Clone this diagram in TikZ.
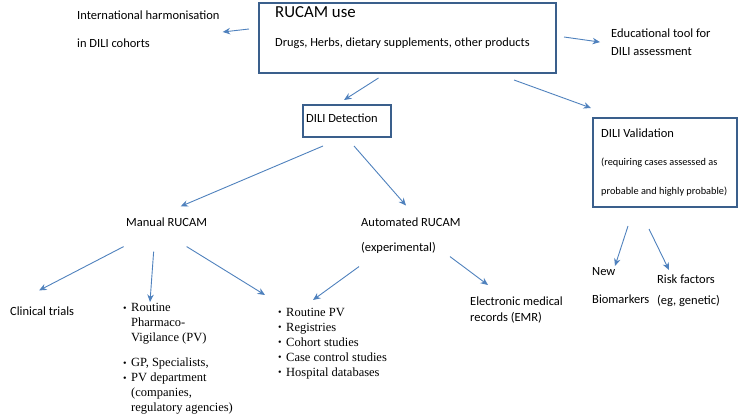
\documentclass[tikz,border=0pt]{standalone}
\usepackage{fontspec}
\setmainfont{Carlito}
\newfontfamily\tms{Liberation Serif}
\usetikzlibrary{arrows.meta,calc}
\definecolor{boxc}{HTML}{3A5F8C}
\definecolor{arrc}{HTML}{4F81BD}
\newcommand{\bul}{\makebox[8pt][l]{\raisebox{0.5pt}{\scalebox{0.8}{\textbullet}}}}
\begin{document}
\begin{tikzpicture}[x=1pt,y=-1pt,
  framebox/.style={draw=boxc,line width=2pt,inner sep=0pt,anchor=north west},
  txt/.style={inner sep=0pt,anchor=west,font=\fontsize{12.5}{15}\selectfont},
  mtxt/.style={inner sep=0pt,anchor=north west,align=left},
  arr/.style={draw=arrc,line width=0.9pt,-{Stealth[length=7.5pt,width=6.5pt]}}]
\useasboundingbox (0,0) rectangle (743,414);
% main box
\node[framebox,minimum width=297pt,minimum height=70pt] (main) at (258,2) {};
\node[txt,font=\fontsize{16.8}{20}\selectfont] (ttl) at (275,12) {RUCAM use};
\node[txt,font=\fontsize{12.4}{15}\selectfont] (sub) at (275,43) {Drugs, Herbs, dietary supplements, other products};
% side texts
\node[mtxt,font=\fontsize{12.5}{28}\selectfont] (intl) at (77,10.5) {International harmonisation\\in DILI cohorts};
\node[mtxt,font=\fontsize{12.5}{18}\selectfont] (edu) at (611,28.5) {Educational tool for\\DILI assessment};
% detection
\node[framebox,minimum width=88pt,minimum height=32pt] (det) at (302,104) {};
\node[txt] (dett) at (306,118) {DILI Detection};
% validation
\node[framebox,minimum width=144pt,minimum height=89pt] (val) at (592,117) {};
\node[txt] (valt) at (601,133) {DILI Validation};
\node[mtxt,font=\fontsize{10.3}{29}\selectfont] (valsub) at (601,158) {(requiring cases assessed as\\probable and highly probable)};
% level 2
\node[txt] (man) at (126,222) {Manual RUCAM};
\node[mtxt,font=\fontsize{12.5}{25}\selectfont] (aut) at (361,217.5) {Automated RUCAM\\(experimental)};
% level 3
\node[txt] (clin) at (10,311) {Clinical trials};
\node[mtxt,font=\fontsize{12.5}{16}\selectfont] (emr) at (470,296.5) {Electronic medical\\records (EMR)};
\node[mtxt,font=\fontsize{12.5}{28}\selectfont] (bio) at (592,267.5) {New\\Biomarkers};
\node[mtxt,font=\fontsize{12.5}{21}\selectfont] (risk) at (657,274.5) {Risk factors\\(eg, genetic)};
\node[mtxt,font=\tms\fontsize{12.5}{15}\selectfont] (lst1) at (123,303.5) {\bul Routine\\\hspace*{8pt}Pharmaco-\\\hspace*{8pt}Vigilance (PV)\\[10pt]\bul GP, Specialists,\\\bul PV department\\\hspace*{8pt}(companies,\\\hspace*{8pt}regulatory agencies)};
\node[mtxt,font=\tms\fontsize{12.5}{15}\selectfont] (lst2) at (278,308) {\bul Routine PV\\\bul Registries\\\bul Cohort studies\\\bul Case control studies\\\bul Hospital databases};
% arrows
\draw[arr] ($(main.west)+(-9,-9)$) -- ($(intl.north east)+(3,21.5)$);
\draw[arr] ($(main.east)+(7,-1)$) -- ($(edu.west)+(-11,0)$);
\draw[arr] ($(main.south)+(-29,4)$) -- ($(det.north)+(-3,-4)$);
\draw[arr] ($(main.south)+(106.5,6)$) -- ($(val.north)+(-74,-9)$);
\draw[arr] ($(det.south)+(-24,8)$) -- ($(man.north)+(14,-11)$);
\draw[arr] ($(det.south)+(7,8)$) -- ($(aut.north west)+(45,-12)$);
\draw[arr] ($(man.south)+(-43,20)$) -- ($(clin.north)+(-3,-16)$);
\draw[arr] ($(man.south)+(-13,25)$) -- ($(lst1.north west)+(27,-1.5)$);
\draw[arr] ($(man.south)+(20,20)$) -- ($(lst2.north west)+(-13,-13)$);
\draw[arr] ($(aut.south west)+(-2,13)$) -- ($(lst2.north west)+(35,-8)$);
\draw[arr] ($(aut.south west)+(89,3)$) -- ($(emr.north west)+(18,-11.5)$);
\draw[arr] ($(val.south)+(-37,18)$) -- ($(bio.north west)+(23,-1.5)$);
\draw[arr] ($(val.south)+(-16,21)$) -- ($(risk.north west)+(12,-4.5)$);
\end{tikzpicture}
\end{document}
